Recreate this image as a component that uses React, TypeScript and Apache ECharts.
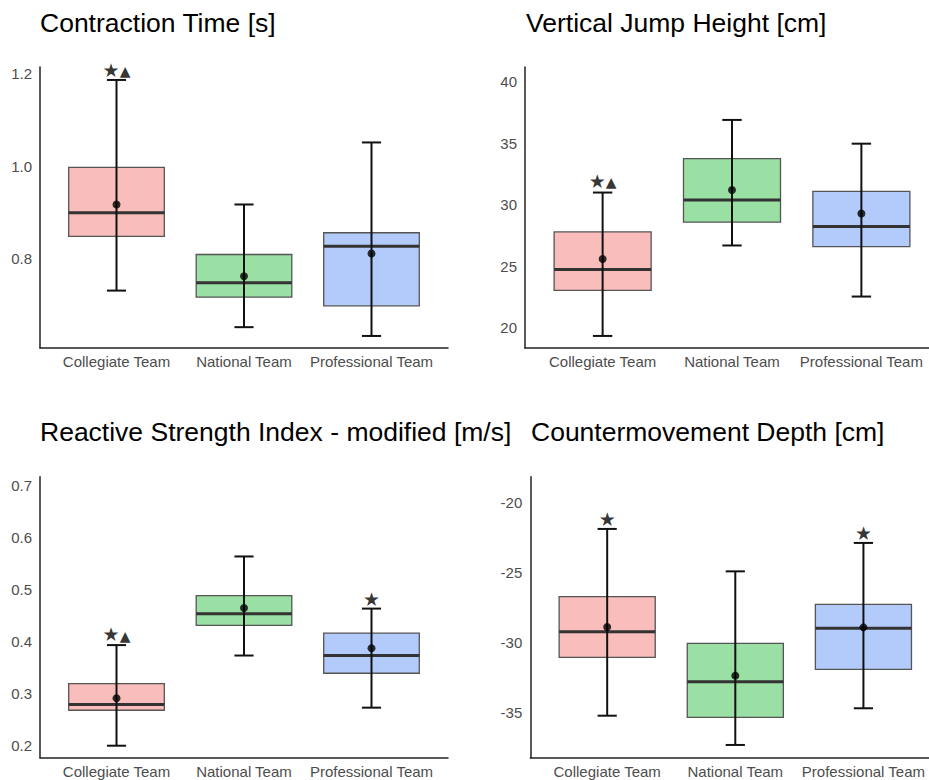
import React, { useEffect, useRef } from "react";
import * as echarts from "echarts";

const categories = ["Collegiate Team", "National Team", "Professional Team"];

// [min, q1, median, q3, max] per category
const contractionTime = [
  [0.731, 0.848, 0.899, 0.997, 1.186],
  [0.652, 0.717, 0.748, 0.809, 0.917],
  [0.633, 0.698, 0.827, 0.856, 1.051],
];
const contractionTimeMean = [0.917, 0.762, 0.811];
const contractionTimeMarks = [{ cat: 1, text: "★▲", y: 1.207 }];
const contractionTimeTicks = [0.8, 1.0, 1.2];

const jumpHeight = [
  [19.35, 23.05, 24.75, 27.8, 31.0],
  [26.7, 28.6, 30.4, 33.75, 36.9],
  [22.55, 26.6, 28.25, 31.1, 34.97],
];
const jumpHeightMean = [25.6, 31.2, 29.3];
const jumpHeightMarks = [{ cat: 1, text: "★▲", y: 31.9 }];
const jumpHeightTicks = [20, 25, 30, 35, 40];

const rsiModified = [
  [0.2, 0.268, 0.279, 0.319, 0.393],
  [0.373, 0.431, 0.453, 0.488, 0.563],
  [0.273, 0.339, 0.373, 0.416, 0.463],
];
const rsiModifiedMean = [0.291, 0.464, 0.387];
const rsiModifiedMarks = [
  { cat: 1, text: "★▲", y: 0.413 },
  { cat: 3, text: "★", y: 0.48 },
];
const rsiModifiedTicks = [0.2, 0.3, 0.4, 0.5, 0.6, 0.7];

const cmDepth = [
  [-35.24, -31.07, -29.24, -26.74, -21.9],
  [-37.33, -35.36, -32.81, -30.07, -24.93],
  [-34.71, -31.93, -29.0, -27.29, -22.9],
];
const cmDepthMean = [-28.9, -32.38, -28.93];
const cmDepthMarks = [
  { cat: 1, text: "★", y: -21.2 },
  { cat: 3, text: "★", y: -22.2 },
];
const cmDepthTicks = [-35, -30, -25, -20];

const fills = ["#F9BDBB", "#9ADFA3", "#B3CBFB"];

const panels = [
  {
    title: "Contraction Time [s]",
    stats: contractionTime, means: contractionTimeMean, marks: contractionTimeMarks, ticks: contractionTimeTicks,
    yMin: 0.607, yMax: 1.214, dec: 1,
    grid: { left: 40, top: 67, width: 408, height: 281 }, titleX: 40, titleY: 22.5,
  },
  {
    title: "Vertical Jump Height [cm]",
    stats: jumpHeight, means: jumpHeightMean, marks: jumpHeightMarks, ticks: jumpHeightTicks,
    yMin: 18.37, yMax: 41.2, dec: 0,
    grid: { left: 525, top: 67, width: 414, height: 281 }, titleX: 526, titleY: 22.5,
  },
  {
    title: "Reactive Strength Index - modified [m/s]",
    stats: rsiModified, means: rsiModifiedMean, marks: rsiModifiedMarks, ticks: rsiModifiedTicks,
    yMin: 0.177, yMax: 0.716, dec: 1,
    grid: { left: 40, top: 476.7, width: 408, height: 281 }, titleX: 40, titleY: 432.3,
  },
  {
    title: "Countermovement Depth [cm]",
    stats: cmDepth, means: cmDepthMean, marks: cmDepthMarks, ticks: cmDepthTicks,
    yMin: -38.24, yMax: -18.17, dec: 0,
    grid: { left: 530.3, top: 476.7, width: 410, height: 281 }, titleX: 531, titleY: 432.3,
  },
];

const FONT = "'Liberation Sans', Arial, Helvetica, sans-serif";

function renderBox(params: any, api: any) {
  const x = api.value(0);
  const lo = api.value(1);
  const q1 = api.value(2);
  const med = api.value(3);
  const q3 = api.value(4);
  const hi = api.value(5);
  const ci = api.value(6);
  const half = api.size([0.75, 0])[0] / 2;
  const capHalf = api.size([0.15, 0])[0] / 2;
  const pLo = api.coord([x, lo]);
  const pQ1 = api.coord([x, q1]);
  const pMed = api.coord([x, med]);
  const pQ3 = api.coord([x, q3]);
  const pHi = api.coord([x, hi]);
  const cx = pMed[0];
  return {
    type: "group",
    children: [
      {
        type: "rect",
        shape: { x: cx - half, y: pQ3[1], width: half * 2, height: pQ1[1] - pQ3[1] },
        style: { fill: fills[ci], stroke: "#555555", lineWidth: 1.3 },
      },
      {
        type: "line",
        shape: { x1: cx - half, y1: pMed[1], x2: cx + half, y2: pMed[1] },
        style: { stroke: "#333333", lineWidth: 3 },
      },
      {
        type: "line",
        shape: { x1: cx, y1: pLo[1], x2: cx, y2: pHi[1] },
        style: { stroke: "#111111", lineWidth: 2 },
      },
      {
        type: "line",
        shape: { x1: cx - capHalf, y1: pHi[1], x2: cx + capHalf, y2: pHi[1] },
        style: { stroke: "#111111", lineWidth: 2 },
      },
      {
        type: "line",
        shape: { x1: cx - capHalf, y1: pLo[1], x2: cx + capHalf, y2: pLo[1] },
        style: { stroke: "#111111", lineWidth: 2 },
      },
    ],
  };
}

function markLabel(d: any) {
  const t: string = d.name;
  return t
    .split("")
    .map((ch) => (ch === "★" ? `{s|★}` : `{t|${ch}}`))
    .join("");
}

export default function App() {
  const ref = useRef<HTMLDivElement>(null);
  useEffect(() => {
    if (!ref.current) return;
    const chart = echarts.init(ref.current, null, { renderer: "svg" });
    const grid: any[] = [];
    const xAxis: any[] = [];
    const yAxis: any[] = [];
    const series: any[] = [];
    const graphic: any[] = [];
    panels.forEach((p, i) => {
      grid.push({ ...p.grid, containLabel: false });
      xAxis.push({
        type: "value",
        gridIndex: i,
        min: 0.4,
        max: 3.6,
        splitLine: { show: false },
        axisTick: { show: false },
        axisLine: { show: true, onZero: false, lineStyle: { color: "#222222", width: 1.5 } },
        axisLabel: {
          customValues: [1, 2, 3],
          formatter: (v: number) => categories[Math.round(v) - 1] ?? "",
          color: "#4d4d4d",
          fontSize: 15,
          fontFamily: FONT,
          margin: 6,
        },
      });
      yAxis.push({
        type: "value",
        gridIndex: i,
        min: p.yMin,
        max: p.yMax,
        splitLine: { show: false },
        axisTick: { show: false },
        axisLine: { show: true, onZero: false, lineStyle: { color: "#222222", width: 1.5 } },
        axisLabel: {
          customValues: p.ticks,
          formatter: (v: number) => v.toFixed(p.dec),
          color: "#4d4d4d",
          fontSize: 15,
          fontFamily: FONT,
          margin: 8,
        },
      });
      series.push({
        type: "custom",
        xAxisIndex: i,
        yAxisIndex: i,
        renderItem: renderBox,
        encode: { x: 0, y: [1, 2, 3, 4, 5] },
        data: p.stats.map((s, k) => [k + 1, ...s, k]),
        z: 2,
      });
      series.push({
        type: "scatter",
        xAxisIndex: i,
        yAxisIndex: i,
        symbol: "circle",
        symbolSize: 8,
        itemStyle: { color: "#000000" },
        data: p.means.map((m, k) => [k + 1, m]),
        z: 5,
      });
      series.push({
        type: "scatter",
        xAxisIndex: i,
        yAxisIndex: i,
        symbolSize: 0,
        data: p.marks.map((a) => ({ value: [a.cat, a.y], name: a.text })),
        label: {
          show: true,
          position: "inside",
          formatter: markLabel,
          color: "#000000",
          rich: {
            s: { fontSize: 19, fontFamily: "'DejaVu Sans', sans-serif", color: "#000", lineHeight: 18, verticalAlign: "bottom" },
            t: { fontSize: 14, fontFamily: "'DejaVu Sans', sans-serif", color: "#000", lineHeight: 18, verticalAlign: "bottom", padding: [0, 0, 1, 0] },
          },
        },
        z: 6,
      });
      graphic.push({
        type: "text",
        x: p.titleX,
        y: p.titleY,
        style: {
          text: p.title,
          fill: "#000000",
          fontSize: 26.5,
          fontFamily: FONT,
          verticalAlign: "middle",
          align: "left",
        },
      });
    });
    chart.setOption({
      animation: false,
      backgroundColor: "#ffffff",
      grid,
      xAxis,
      yAxis,
      series,
      graphic,
    });
    return () => chart.dispose();
  }, []);
  return (
    <div
      style={{ position: "absolute", left: 0, top: 0, width: 929, height: 780, overflow: "hidden", background: "#fff" }}
    >
      <div ref={ref} style={{ width: 960, height: 780 }} />
    </div>
  );
}
